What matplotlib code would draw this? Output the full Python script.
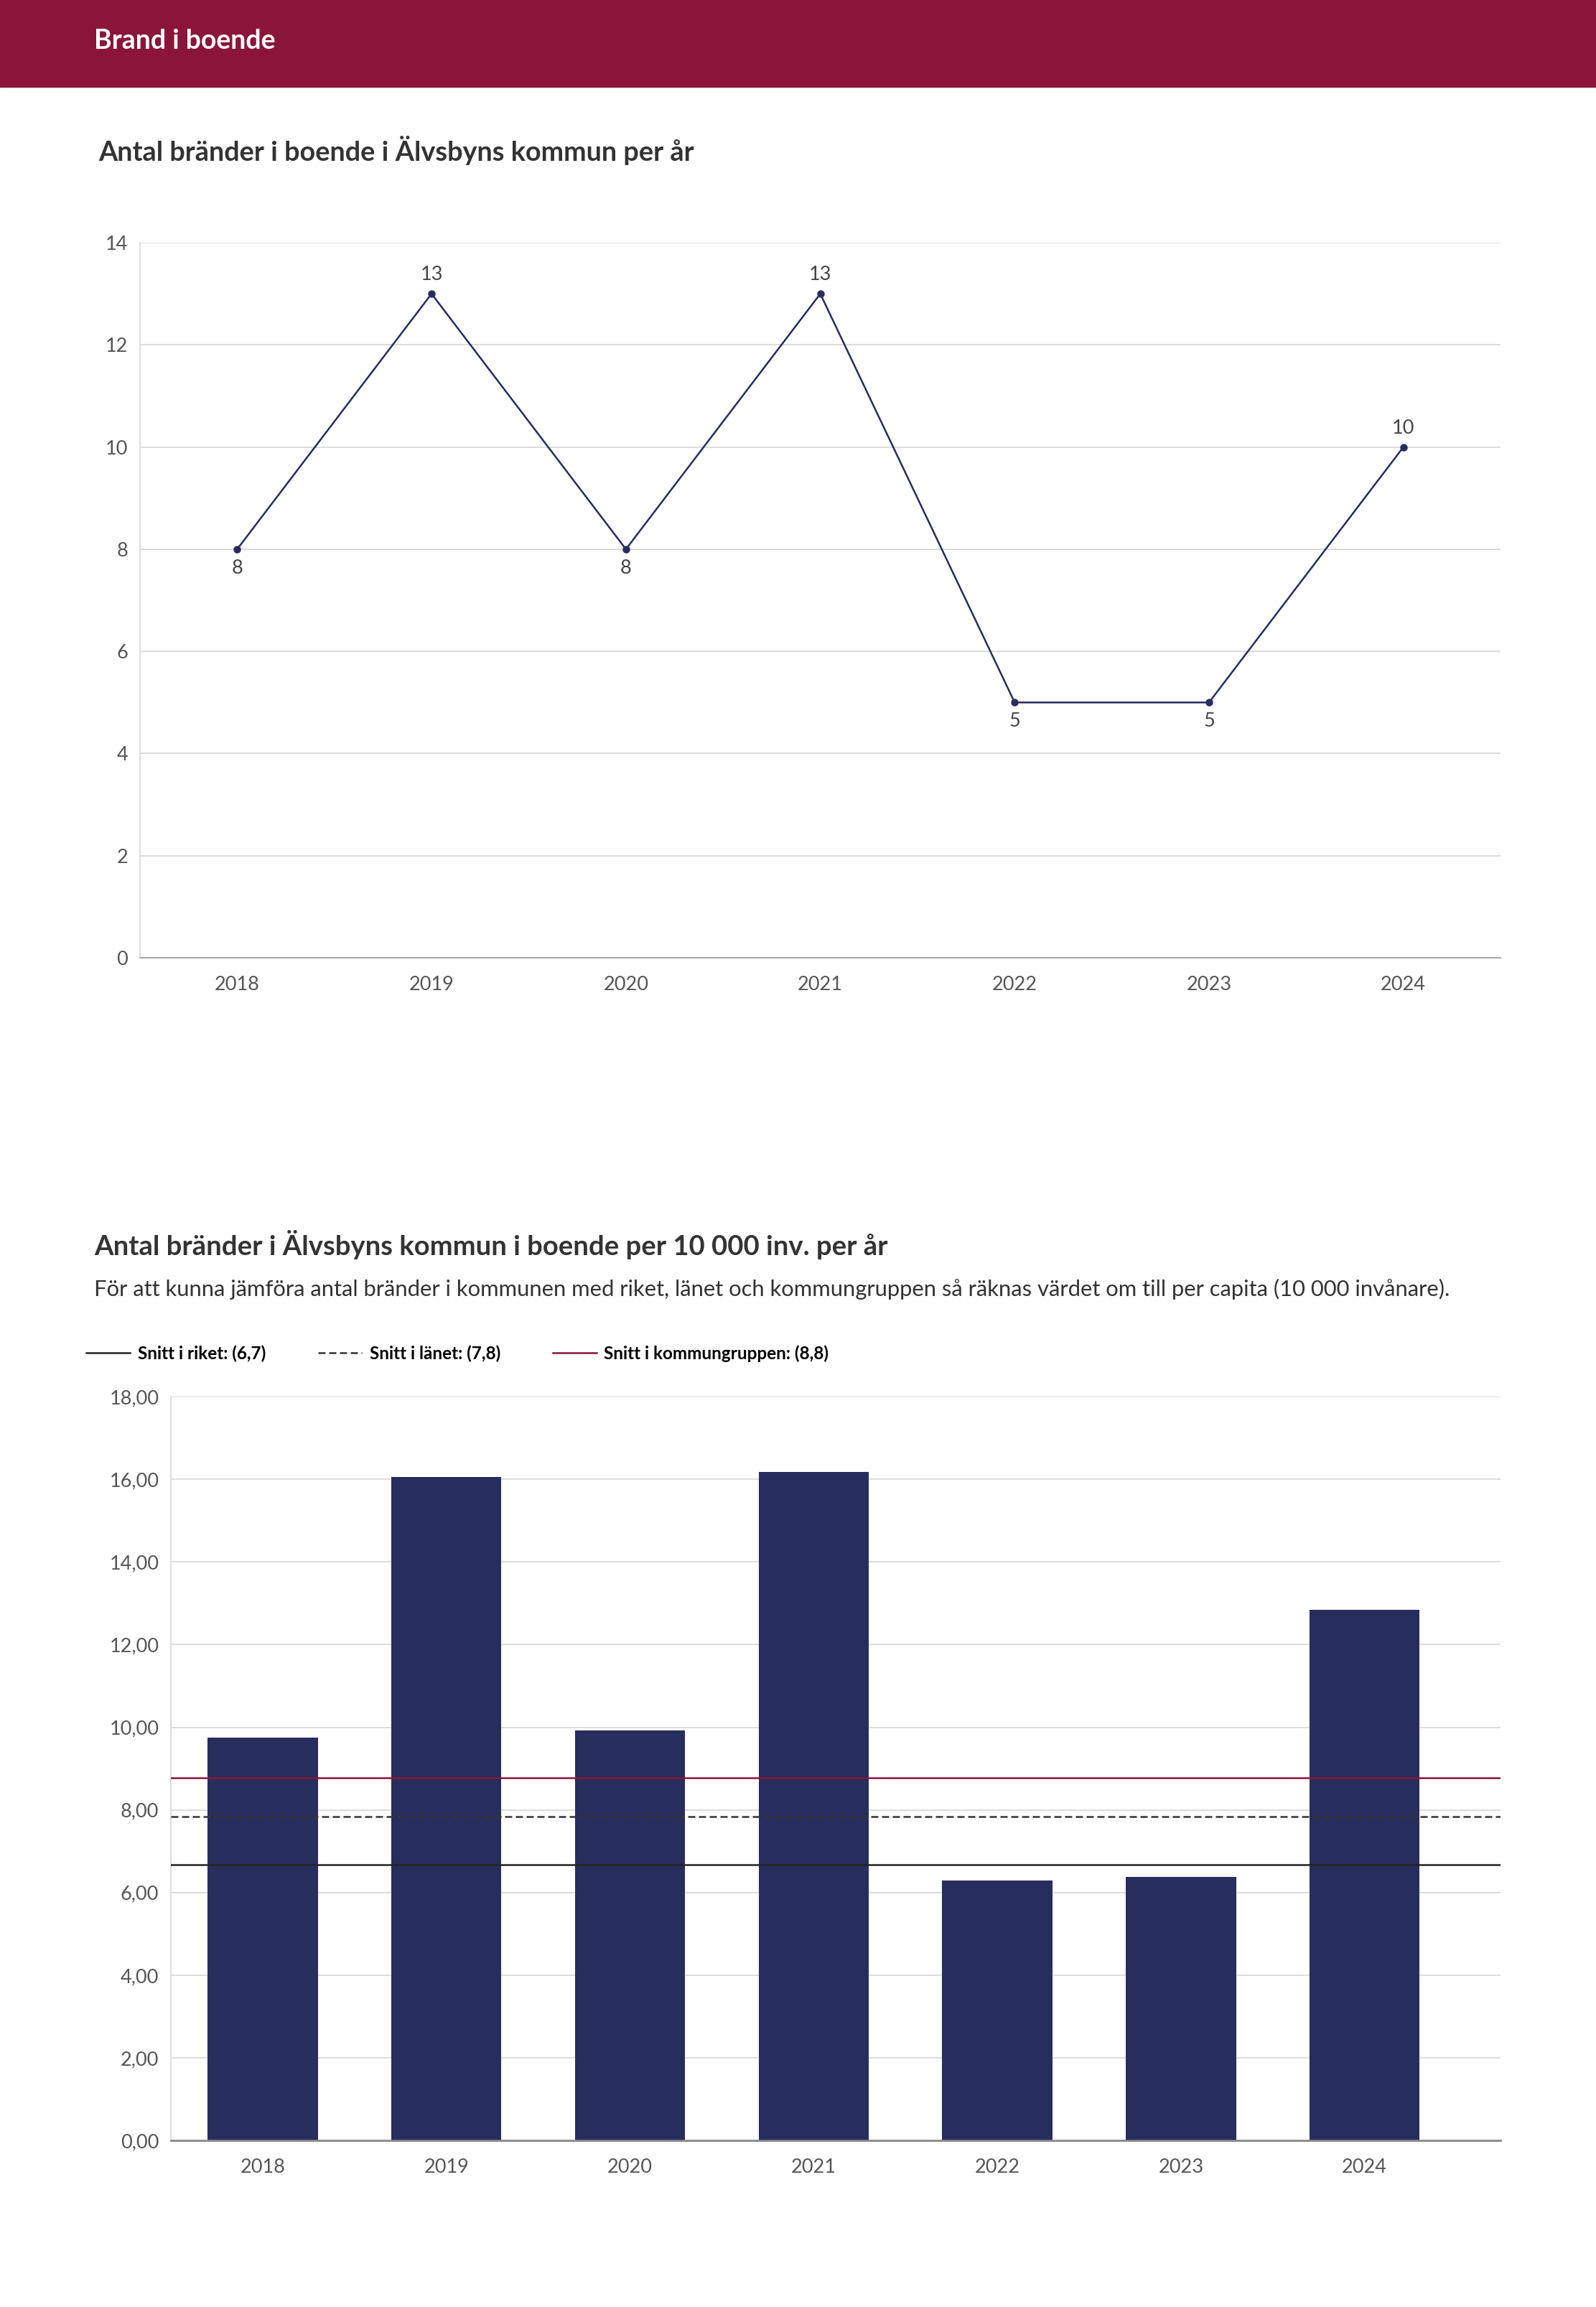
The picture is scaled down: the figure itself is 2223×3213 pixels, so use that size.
import matplotlib
matplotlib.use("Agg")
import matplotlib.pyplot as plt
from matplotlib.ticker import FuncFormatter

# Data
years = ["2018", "2019", "2020", "2021", "2022", "2023", "2024"]
fires = [8, 13, 8, 13, 5, 5, 10]
fires_per_10k = [9.75, 16.05, 9.92, 16.17, 6.29, 6.37, 12.85]

avg_names = ["Snitt i riket", "Snitt i länet", "Snitt i kommungruppen"]
avg_values = [6.67, 7.83, 8.78]

# Colours
RED = "#8b1538"
NAVY = "#272d5d"
TITLE = "#333333"
TICK = "#555555"
GRID = "#dadada"

plt.rcParams["font.family"] = ["Lato", "DejaVu Sans"]

fig = plt.figure(figsize=(22.23, 32.13), dpi=100)

# Header band
fig.patches.append(plt.Rectangle((0, 1 - 121 / 3213), 1, 121 / 3213,
                                 transform=fig.transFigure, color=RED, zorder=0))
fig.text(131 / 2223, 1 - 57 / 3213, "Brand i boende", color="white",
         fontsize=27, fontweight="bold", va="center", ha="left")

# ---- Chart 1: line chart ----
fig.text(137 / 2223, 1 - 209 / 3213, "Antal bränder i boende i Älvsbyns kommun per år",
         color=TITLE, fontsize=27.3, fontweight="bold", va="center", ha="left")

ax1 = fig.add_axes([195 / 2223, 0.5848, 0.8525, 0.31])
x = range(len(years))
ax1.plot(x, fires, color=NAVY, lw=1.8, marker="o", markersize=6.5, zorder=3)
for i, v in enumerate(fires):
    neighbours = [fires[j] for j in (i - 1, i + 1) if 0 <= j < len(fires)]
    above = all(v > n for n in neighbours)
    ax1.annotate(str(v), (i, v), xytext=(0, 19 if above else -19),
                 textcoords="offset points", ha="center", va="center",
                 fontsize=19.5, color="#444444")
ax1.set_xlim(-0.5, 6.5)
ax1.set_ylim(0, 14)
ax1.set_yticks(range(0, 15, 2))
ax1.set_xticks(list(x))
ax1.set_xticklabels(years)
ax1.grid(axis="y", color=GRID, lw=1.3)
ax1.set_axisbelow(True)
for s in ["top", "right"]:
    ax1.spines[s].set_visible(False)
ax1.spines["left"].set_color(GRID)
ax1.spines["left"].set_linewidth(1.3)
ax1.spines["bottom"].set_color("#aaaaaa")
ax1.spines["bottom"].set_linewidth(1.5)
ax1.tick_params(axis="both", length=0, labelsize=19.5, labelcolor=TICK)
ax1.tick_params(axis="y", pad=12)
ax1.tick_params(axis="x", pad=18)

# ---- Chart 2: bar chart ----
fig.text(131 / 2223, 1 - 1733 / 3213,
         "Antal bränder i Älvsbyns kommun i boende per 10 000 inv. per år",
         color=TITLE, fontsize=27.5, fontweight="bold", va="center", ha="left")
fig.text(131 / 2223, 1 - 1795 / 3213,
         "För att kunna jämföra antal bränder i kommunen med riket, länet och "
         "kommungruppen så räknas värdet om till per capita (10 000 invånare).",
         color=TITLE, fontsize=22.3, va="center", ha="left")

ax2 = fig.add_axes([238 / 2223, 0.0722, 0.8331, 0.3224])
ax2.bar(list(x), fires_per_10k, width=0.6, color=NAVY, zorder=2)
styles = [("#222222", "-"), ("#333333", (0, (4, 2))), (RED, "-")]
handles = []
for (name, val), (col, ls) in zip(zip(avg_names, avg_values), styles):
    label = f"{name}: ({val:.1f})".replace(".", ",")
    h = ax2.axhline(val, color=col, ls=ls, lw=1.8, zorder=3, label=label)
    handles.append(h)
ax2.set_xlim(-0.5, 6.74)
ax2.set_ylim(0, 18)
ax2.set_yticks(range(0, 19, 2))
ax2.yaxis.set_major_formatter(FuncFormatter(lambda v, p: f"{v:.2f}".replace(".", ",")))
ax2.set_xticks(list(x))
ax2.set_xticklabels(years)
ax2.grid(axis="y", color=GRID, lw=1.3)
ax2.set_axisbelow(True)
for s in ["top", "right"]:
    ax2.spines[s].set_visible(False)
ax2.spines["left"].set_color(GRID)
ax2.spines["left"].set_linewidth(1.3)
ax2.spines["bottom"].set_color("#888888")
ax2.spines["bottom"].set_linewidth(2)
ax2.tick_params(axis="both", length=0, labelsize=19.5, labelcolor=TICK)
ax2.tick_params(axis="y", pad=12)
ax2.tick_params(axis="x", pad=18)

fig.legend(handles=handles, loc="center left", ncol=3, frameon=False,
           bbox_to_anchor=(120 / 2223, 1 - 1885 / 3213),
           prop={"weight": "bold", "size": 17.5}, handlelength=2.5,
           handletextpad=0.45, columnspacing=3.0, borderpad=0, borderaxespad=0)

fig.savefig("out.png", dpi=100, facecolor="white")
